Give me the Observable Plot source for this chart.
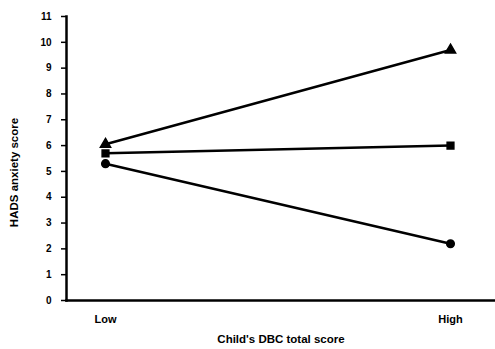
<!DOCTYPE html>
<html>
<head>
<meta charset="utf-8">
<script src="https://cdn.jsdelivr.net/npm/d3@7"></script>
<script src="https://cdn.jsdelivr.net/npm/@observablehq/plot@0.6"></script>
<style>
  html, body { margin: 0; padding: 0; background: #fff; }
</style>
</head>
<body>
<div id="chart"></div>
<script>
const categories = ["Low", "High"];
const seriesNames = ["triangle", "square", "circle"];
const triangleValues = [6.05, 9.7];
const squareValues = [5.7, 6.0];
const circleValues = [5.3, 2.2];
const yTicks = [0, 1, 2, 3, 4, 5, 6, 7, 8, 9, 10, 11];
const xTitle = "Child's DBC total score";
const yTitle = "HADS anxiety score";

const allValues = [triangleValues, squareValues, circleValues];
const data = [];
seriesNames.forEach((s, i) => {
  categories.forEach((c, j) => data.push({series: s, cat: c, value: allValues[i][j]}));
});

const chart = Plot.plot({
  width: 495,
  height: 349,
  marginLeft: 66,
  marginRight: 0,
  marginTop: 16,
  marginBottom: 49,
  insetLeft: 39,
  insetRight: 45,
  style: {fontFamily: "Liberation Sans, Arial, sans-serif", fontWeight: "bold", fontSize: "10px", color: "#000", background: "#fff"},
  x: {type: "point", domain: categories, padding: 0},
  y: {domain: [0, 11]},
  symbol: {domain: seriesNames, range: ["triangle", "square", "circle"]},
  marks: [
    Plot.axisY({ticks: yTicks, tickSize: 5, tickPadding: 10, tickFormat: d => d, label: null, strokeWidth: 1.5, fontSize: 10}),
    Plot.axisX({tickSize: 0, tickPadding: 15, label: null, fontSize: 11}),
    Plot.frame({anchor: "bottom", stroke: "#000", strokeWidth: 2.5}),
    Plot.frame({anchor: "left", stroke: "#000", strokeWidth: 2.5}),
    Plot.line(data, {x: "cat", y: "value", z: "series", stroke: "#000", strokeWidth: 2.5}),
    Plot.dot(data, {x: "cat", y: "value", symbol: "series", fill: "#000", stroke: "#000", r: 3.8}),
    Plot.text([xTitle], {frameAnchor: "bottom", dy: 42, text: d => d, fontSize: 11.5, fontWeight: "bold"}),
    Plot.text([yTitle], {frameAnchor: "left", textAnchor: "middle", dx: -52, dy: 14, rotate: -90, text: d => d, fontSize: 11.5, fontWeight: "bold"})
  ]
});
document.getElementById("chart").appendChild(chart);
</script>
</body>
</html>
